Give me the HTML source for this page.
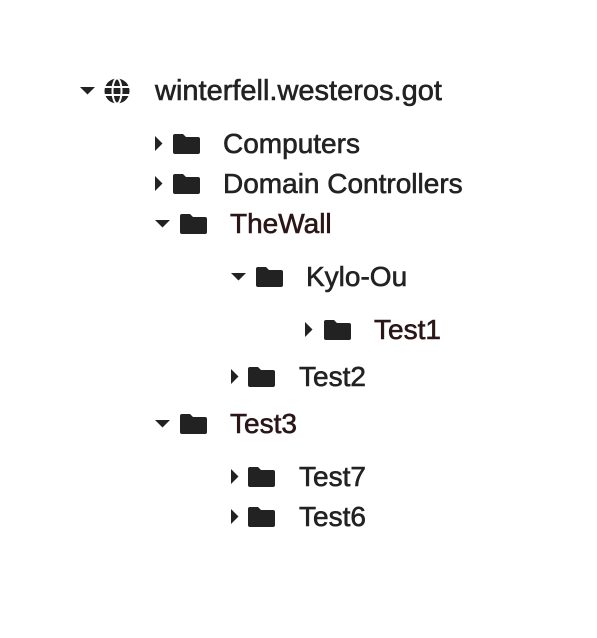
<!DOCTYPE html>
<html><head><style>
body{margin:0;width:597px;height:638px;background:#fff;position:relative;overflow:hidden;font-family:"Liberation Sans",sans-serif}
.t{position:absolute;font-size:28px;line-height:32px;height:32px;color:#222;white-space:nowrap;-webkit-text-stroke:0.6px #222}
.r{color:#2a1616;-webkit-text-stroke:0.6px #2a1616}
svg{position:absolute}
</style></head><body>
<svg width="597" height="638" style="left:0;top:0" fill="#222">
<defs>
<path id="fo" d="M0,2 q0,-2 2,-2 h8 l3,3 h12 q2,0 2,2 v13 q0,2 -2,2 h-23 q-2,0 -2,-2z"/>
<path id="cd" d="M0,0 h15 l-7.5,7.5z"/>
<path id="cr" d="M0,0 l7.5,7.5 l-7.5,7.5z"/>
</defs>
<use href="#cd" x="80" y="87"/>
<g transform="translate(117,91)"><circle r="12.5" fill="#222"/><g stroke="#fff" stroke-width="2" fill="none"><ellipse rx="4.5" ry="12.5"/><line x1="-12" y1="-4" x2="12" y2="-4"/><line x1="-12" y1="4" x2="12" y2="4"/></g></g>
<use href="#cr" x="155" y="136"/><use href="#fo" x="173" y="134"/>
<use href="#cr" x="155" y="176"/><use href="#fo" x="173" y="174"/>
<use href="#cd" x="155" y="220"/><use href="#fo" x="180" y="214"/>
<use href="#cd" x="231" y="273"/><use href="#fo" x="256" y="267"/>
<use href="#cr" x="305" y="322"/><use href="#fo" x="324" y="320"/>
<use href="#cr" x="231" y="369"/><use href="#fo" x="248" y="367"/>
<use href="#cd" x="155" y="420"/><use href="#fo" x="180" y="414"/>
<use href="#cr" x="231" y="469"/><use href="#fo" x="248" y="467"/>
<use href="#cr" x="231" y="509"/><use href="#fo" x="248" y="507"/>
</svg>
<div class="t" style="left:155px;top:75px;font-size:29px">winterfell.westeros.got</div>
<div class="t" style="left:223px;top:128px">Computers</div>
<div class="t" style="left:223px;top:168px">Domain Controllers</div>
<div class="t r" style="left:230px;top:208px">TheWall</div>
<div class="t" style="left:306px;top:261px">Kylo-Ou</div>
<div class="t r" style="left:374px;top:314px">Test1</div>
<div class="t" style="left:299px;top:361px">Test2</div>
<div class="t r" style="left:230px;top:408px">Test3</div>
<div class="t" style="left:299px;top:461px">Test7</div>
<div class="t" style="left:299px;top:501px">Test6</div>
</body></html>
